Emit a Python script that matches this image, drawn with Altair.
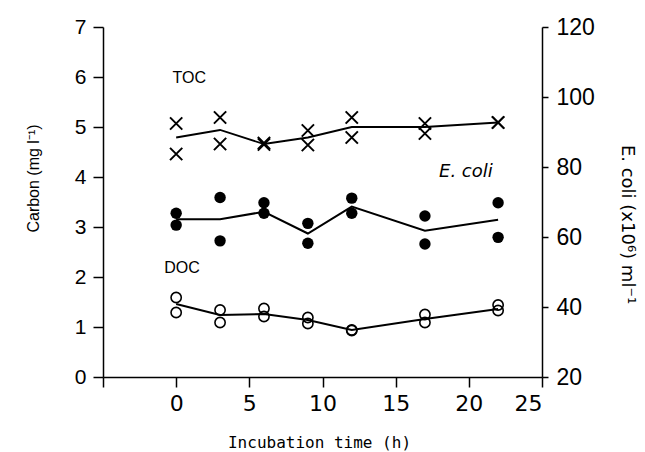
import altair as alt
import pandas as pd

# ---- data ----
times = [0, 3, 6, 9, 12, 17, 22]

toc_rep1 = [5.07, 5.19, 4.68, 4.93, 5.19, 5.07, 5.09]
toc_rep2 = [4.46, 4.66, 4.65, 4.64, 4.79, 4.87, 5.09]
toc_mean = [4.79, 4.94, 4.66, 4.79, 5.00, 5.00, 5.09]

doc_rep1 = [1.59, 1.34, 1.37, 1.19, 0.94, 1.25, 1.44]
doc_rep2 = [1.29, 1.09, 1.21, 1.07, 0.93, 1.09, 1.33]
doc_mean = [1.46, 1.24, 1.26, 1.14, 0.94, 1.16, 1.36]

ecoli_rep1 = [66.8, 71.3, 69.8, 63.9, 71.1, 66.0, 69.8]
ecoli_rep2 = [63.4, 58.9, 66.8, 58.2, 66.8, 58.0, 59.9]
ecoli_mean = [65.1, 65.1, 67.2, 61.0, 68.7, 61.8, 64.9]

label_text = ["TOC", "DOC"]
label_x = [0.9, 0.4]
label_y = [5.98, 2.18]
ecoli_label = ["E. coli"]
ecoli_label_x = [19.8]
ecoli_label_y = [4.1]

x_ticks = [-5, 0, 5, 10, 15, 20, 25]
c_ticks = [0, 1, 2, 3, 4, 5, 6, 7]
e_ticks = [20, 40, 60, 80, 100, 120]

# ---- tables ----
toc_pts = pd.DataFrame({"t": times * 2, "v": toc_rep1 + toc_rep2})
toc_ln = pd.DataFrame({"t": times, "v": toc_mean})
doc_pts = pd.DataFrame({"t": times * 2, "v": doc_rep1 + doc_rep2})
doc_ln = pd.DataFrame({"t": times, "v": doc_mean})
eco_pts = pd.DataFrame({"t": times * 2, "v": ecoli_rep1 + ecoli_rep2})
eco_ln = pd.DataFrame({"t": times, "v": ecoli_mean})
lbl = pd.DataFrame({"t": label_x, "v": label_y, "txt": label_text})
elbl = pd.DataFrame({"t": ecoli_label_x, "v": ecoli_label_y, "txt": ecoli_label})

FONT = "Liberation Sans"

x_scale = alt.Scale(domain=[-5, 25], nice=False, zero=False)
c_scale = alt.Scale(domain=[0, 7], nice=False, zero=False)
e_scale = alt.Scale(domain=[20, 120], nice=False, zero=False)

x_axis = alt.Axis(
    values=x_ticks,
    labelExpr="datum.value < 0 ? '' : datum.label",
    title="Incubation time (h)",
    tickSize=10,
    labelPadding=6,
    labelFontSize=22,
    labelFont="DejaVu Sans",
    titleFont="DejaVu Sans Mono",
    titleFontSize=16,
    titleFontWeight="normal",
    titleX=216,
    titleY=65,
    titleBaseline="middle",
    titleAlign="center",
)

c_axis = alt.Axis(
    orient="left",
    values=c_ticks,
    title="Carbon (mg l⁻¹)",
    tickSize=10,
    labelPadding=7,
    labelFontSize=21,
    labelFont=FONT,
    titleFont=FONT,
    titleFontSize=16,
    titleFontWeight="normal",
    titleX=-70,
    titleY=151,
    titleAngle=270,
    titleBaseline="middle",
    titleAlign="center",
)

e_axis = alt.Axis(
    orient="right",
    values=e_ticks,
    title="E.  coli (x10⁶)  ml⁻¹",
    tickSize=6,
    labelPadding=8,
    labelFontSize=23,
    labelFont=FONT,
    titleFont="DejaVu Sans",
    titleFontSize=18,
    titleFontWeight="normal",
    titleX=84,
    titleY=197,
    titleAngle=90,
    titleBaseline="middle",
    titleAlign="center",
)

X = alt.X("t:Q", scale=x_scale, axis=x_axis)
Yc = alt.Y("v:Q", scale=c_scale, axis=c_axis)
Ye = alt.Y("v:Q", scale=e_scale, axis=e_axis)

xshape = "M-1,-1L1,1M1,-1L-1,1"

toc_line = alt.Chart(toc_ln).mark_line(color="black", strokeWidth=1.8).encode(x=X, y=Yc)
toc_mark = alt.Chart(toc_pts).mark_point(
    shape=xshape, size=150, color="black", strokeWidth=2, filled=False, opacity=1
).encode(x=X, y=Yc)
doc_line = alt.Chart(doc_ln).mark_line(color="black", strokeWidth=2).encode(x=X, y=Yc)
doc_mark = alt.Chart(doc_pts).mark_point(
    shape="circle", size=105, color="black", strokeWidth=1.6, filled=False, opacity=1
).encode(x=X, y=Yc)
labels = alt.Chart(lbl).mark_text(font=FONT, fontSize=16, color="black").encode(
    x=X, y=Yc, text="txt:N"
)
elabels = alt.Chart(elbl).mark_text(
    font="DejaVu Sans", fontSize=18, fontStyle="italic", color="black"
).encode(x=X, y=Yc, text="txt:N")

carbon = alt.layer(toc_line, toc_mark, doc_line, doc_mark, labels, elabels)

eco_line = alt.Chart(eco_ln).mark_line(color="black", strokeWidth=2).encode(x=X, y=Ye)
eco_mark = alt.Chart(eco_pts).mark_point(
    shape="circle", size=130, color="black", filled=True, opacity=1
).encode(x=X, y=Ye)
ecoli = alt.layer(eco_line, eco_mark)

chart = (
    alt.layer(carbon, ecoli)
    .resolve_scale(y="independent")
    .properties(
        width=439,
        height=350,
        autosize="none",
        padding={"left": 95, "top": 19, "right": 95, "bottom": 75},
        background="white",
    )
    .configure_view(stroke=None)
    .configure_axis(
        grid=False,
        domainColor="black",
        tickColor="black",
        labelColor="black",
        titleColor="black",
        domainWidth=1.5,
        tickWidth=1.5,
    )
)

chart.save("out.html", embed_options={"renderer": "svg", "actions": False})
